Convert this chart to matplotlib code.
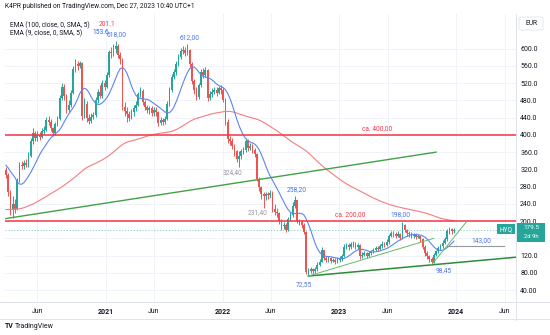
import numpy as np
import pandas as pd
import matplotlib
matplotlib.use("Agg")
import matplotlib.pyplot as plt
import matplotlib.dates as mdates
from matplotlib.patches import FancyBboxPatch, Rectangle

plt.rcParams['font.family'] = ['Roboto', 'DejaVu Sans']

# Weekly HYQ candles, first week starting 2020-02-24
first_week = "2020-02-24"
first_open = 318
closes = [
    308, 268, 225, 240, 228, 295, 330, 328, 335, 330,
    352, 385, 405, 392, 400, 395, 408, 412, 435, 430,
    415, 404, 425, 438, 485, 512, 490, 458, 470, 498,
    552, 565, 560, 566, 445, 472, 440, 432, 442, 446,
    480, 500, 490, 520, 512, 538, 592, 590, 600, 606,
    585, 575, 465, 455, 448, 440, 452, 462, 470, 495,
    502, 476, 465, 458, 462, 450, 458, 452, 428, 435,
    430, 438, 472, 505, 535, 545, 565, 580, 595, 598,
    590, 596, 565, 525, 505, 488, 515, 545, 540, 550,
    485, 495, 500, 505, 498, 508, 505, 482, 430, 390,
    385, 375, 362, 345, 350, 362, 365, 385, 370, 375,
    365, 355, 298, 278, 262, 258, 262, 260, 265, 228,
    222, 218, 200, 188, 192, 180, 205, 215, 235, 248,
    200, 198, 192, 175, 82, 85, 88, 84, 88, 98,
    106, 132, 115, 110, 114, 108, 110, 106, 110, 112,
    118, 140, 145, 140, 146, 148, 140, 145, 118, 122,
    125, 120, 126, 130, 134, 138, 136, 142, 148, 145,
    152, 165, 172, 170, 165, 170, 160, 192, 180, 172,
    170, 165, 168, 164, 166, 158, 140, 126, 118, 112,
    104, 122, 130, 138, 142, 150, 158, 178, 182, 176,
    179.5,
]
highs = [
    325, 312, 272, 258, 252, 300, 338, 340, 342, 345,
    360, 392, 415, 410, 408, 406, 415, 420, 442, 445,
    436, 418, 430, 445, 492, 520, 518, 495, 480, 505,
    560, 575, 572, 572, 570, 485, 478, 448, 450, 452,
    488, 506, 515, 528, 528, 545, 598, 604, 610, 618,
    610, 592, 578, 476, 465, 455, 460, 470, 478, 500,
    510, 506, 480, 470, 468, 466, 465, 464, 456, 442,
    440, 445, 478, 510, 542, 552, 572, 588, 602, 606,
    604, 612, 600, 570, 530, 512, 520, 552, 555, 558,
    554, 502, 508, 512, 510, 514, 515, 510, 486, 436,
    398, 392, 380, 366, 362, 368, 372, 392, 390, 382,
    380, 370, 358, 302, 282, 268, 268, 268, 272, 270,
    240, 230, 222, 205, 198, 196, 210, 222, 245, 258.2,
    250, 206, 202, 195, 178, 92, 94, 92, 94, 104,
    112, 140, 134, 120, 118, 116, 115, 114, 116, 118,
    124, 146, 150, 150, 152, 154, 152, 150, 148, 128,
    130, 128, 130, 134, 138, 142, 142, 146, 154, 152,
    158, 170, 178, 176, 174, 176, 172, 198, 194, 182,
    176, 174, 172, 172, 170, 168, 160, 144, 130, 122,
    116, 126, 134, 142, 147, 155, 162, 182, 186, 185,
    184,
]
lows = [
    300, 258, 214, 208, 218, 225, 290, 320, 322, 325,
    326, 348, 380, 385, 386, 388, 392, 402, 408, 422,
    410, 398, 400, 420, 435, 480, 480, 450, 452, 465,
    495, 545, 550, 555, 435, 440, 430, 425, 428, 436,
    442, 475, 485, 486, 505, 508, 535, 578, 582, 590,
    578, 565, 458, 445, 430, 432, 436, 445, 455, 466,
    488, 470, 458, 450, 448, 444, 445, 444, 420, 422,
    424, 426, 434, 468, 500, 530, 540, 560, 575, 588,
    584, 585, 558, 518, 496, 480, 484, 510, 532, 535,
    478, 480, 488, 494, 490, 494, 496, 476, 424, 382,
    376, 368, 352, 336, 324.4, 345, 355, 360, 362, 365,
    358, 348, 292, 270, 252, 231.4, 250, 252, 254, 222,
    215, 210, 194, 180, 182, 174, 178, 200, 210, 230,
    195, 190, 185, 170, 78, 72.55, 80, 78, 80, 85,
    95, 104, 110, 104, 106, 102, 104, 100, 102, 106,
    108, 116, 136, 134, 136, 140, 136, 136, 112, 114,
    118, 115, 116, 122, 126, 130, 130, 132, 138, 140,
    142, 148, 162, 164, 160, 162, 155, 158, 174, 166,
    164, 160, 160, 158, 160, 152, 135, 120, 112, 105,
    98.45, 102, 118, 126, 132, 138, 146, 154, 170, 170,
    172,
]
opens = [first_open] + closes[:-1]

dates = pd.date_range(first_week, periods=len(closes), freq="7D")
x = mdates.date2num(dates)

# price levels and drawings
resistance = 400.0
support = 200.0
level_143 = 143.0
trend_start = ("2020-02-24", 206.0)
trend_end = ("2023-10-30", 360.0)
i_low1, i_low2 = 135, 190          # 72,55 and 98,45 lows
i_high1, i_high2, i_high3, i_high4 = 49, 81, 129, 177
i_dip1, i_dip2 = 104, 115
channel_end = ("2023-10-23", 160.0)
rally_end = ("2024-02-04", 200.0)
ray_143 = ("2023-12-04", "2024-05-28")

ema100_seed = 225.0
ema9_seed = 335.0


def ema(values, span, seed):
    alpha = 2.0 / (span + 1)
    out, prev = [], seed
    for v in values:
        prev = prev + alpha * (v - prev)
        out.append(prev)
    return pd.Series(out).rolling(5, min_periods=1).mean().to_numpy()


ema100 = ema(closes, 100, ema100_seed)
ema9 = ema(closes, 9, ema9_seed)

UP = "#26a69a"
DOWN = "#ef5350"
RED = "#f23645"
BLUE = "#2962ff"
GREEN = "#43a047"
TXT = "#131722"
GRID = "#f0f3fa"
LABEL_BLUE = "#4a74e8"

W, H = 550, 335
fig = plt.figure(figsize=(W / 100, H / 100), dpi=100)
ax = fig.add_axes([5 / W, (H - 302) / H, (516 - 5) / W, (302 - 14) / H])

# candles
for xi, o, h, l, c in zip(x, opens, highs, lows, closes):
    col = UP if c >= o else DOWN
    ax.vlines(xi, l, h, color=col, linewidth=0.7, zorder=3)
    ax.add_patch(Rectangle((xi - 2.6, min(o, c)), 5.2, max(abs(c - o), 1.2),
                           facecolor=col, edgecolor='none', zorder=4))

ax.plot(x, ema100, color="#f77c80", linewidth=0.8, zorder=5)
ax.plot(x, ema9, color="#5b86f0", linewidth=0.8, zorder=5)

xmin = mdates.date2num(pd.Timestamp("2020-02-21"))
xmax = mdates.date2num(pd.Timestamp("2024-07-06"))
ax.set_xlim(xmin, xmax)
ax.set_ylim(12.3, 680.5)

# horizontal levels
ax.axhline(resistance, color=RED, linewidth=1.1, zorder=6)
ax.axhline(support, color=RED, linewidth=1.1, zorder=6)
ax.axhline(closes[-1], color=UP, linewidth=0.6, linestyle=(0, (1.5, 2)), alpha=0.6, zorder=2)
ax.text(mdates.date2num(pd.Timestamp("2023-04-30")), resistance + 6, "ca. 400,00",
        color=RED, fontsize=4.8, ha='center', va='bottom', zorder=7)
ax.text(mdates.date2num(pd.Timestamp("2023-02-05")), support + 6, "ca. 200,00",
        color=RED, fontsize=4.8, ha='center', va='bottom', zorder=7)

# trend lines
d = lambda s: mdates.date2num(pd.Timestamp(s))
ax.plot([d(trend_start[0]), d(trend_end[0])], [trend_start[1], trend_end[1]],
        color=GREEN, linewidth=1.0, zorder=6)
slope = (lows[i_low2] - lows[i_low1]) / (x[i_low2] - x[i_low1])
ax.plot([x[i_low1], xmax], [lows[i_low1], lows[i_low1] + slope * (xmax - x[i_low1])],
        color="#2e8b3a", linewidth=1.1, zorder=6)
ax.plot([x[i_low1], d(channel_end[0])], [lows[i_low1], channel_end[1]],
        color="#66bb6a", linewidth=0.7, zorder=6)
ax.plot([x[i_low2], d(rally_end[0])], [lows[i_low2], rally_end[1]],
        color="#66bb6a", linewidth=0.7, zorder=6)
ax.plot([d(ray_143[0]), d(ray_143[1])], [level_143, level_143],
        color="#9598a1", linewidth=0.8, zorder=6)


def tag(i_x, val, text, dx, dy, color):
    ax.annotate(text, xy=(i_x, val), xytext=(dx * 0.72, dy * 0.72),
                textcoords='offset points', ha='center', va='center',
                color=color, fontsize=4.8, zorder=8)


tag(x[i_high1], highs[i_high1], "618,00", 1, 6, LABEL_BLUE)
tag(x[i_high2], highs[i_high2], "612,00", 2, 6, LABEL_BLUE)
tag(x[i_high3], highs[i_high3], "258,20", 2, 6, LABEL_BLUE)
tag(x[i_high4], highs[i_high4], "198,00", -1.5, 7, LABEL_BLUE)
tag(x[i_low1], lows[i_low1], "72,55", -4, -9, LABEL_BLUE)
tag(x[i_low2], lows[i_low2], "98,45", 12, -6, LABEL_BLUE)
tag(x[i_dip1], lows[i_dip1], "324,40", -6, -5, "#9598a1")
tag(x[i_dip2], lows[i_dip2], "231,40", -6, -5, "#9598a1")
tag(d("2024-03-20"), level_143, "143,00", 0, 5, LABEL_BLUE)

# grid and axes; the 160 label sits under the last-price tag
yticks = np.arange(40, 601, 40)
ax.set_yticks(yticks)
ax.set_yticklabels(["" if v == 160 else (f"{v:.1f}" if v >= 100 else f"{v:.2f}")
                    for v in yticks])
ax.yaxis.tick_right()
ax.tick_params(axis='y', length=0, pad=3, labelsize=5, labelcolor=TXT)
ax.tick_params(axis='x', length=0, pad=4, labelsize=5, labelcolor=TXT)
xt = ["2020-06-01", "2021-01-01", "2021-06-01", "2022-01-01", "2022-06-01",
      "2023-01-01", "2023-06-01", "2024-01-01", "2024-06-01"]
xl = ["Jun", "2021", "Jun", "2022", "Jun", "2023", "Jun", "2024", "Jun"]
ax.set_xticks([d(s) for s in xt])
ax.set_xticklabels(xl)
for lab in ax.get_xticklabels():
    if lab.get_text() != "Jun":
        lab.set_fontweight('bold')
for lab in ax.get_yticklabels():
    lab.set_horizontalalignment('left')
ax.grid(True, color=GRID, linewidth=0.7, zorder=0)
for s in ax.spines.values():
    s.set_visible(False)

# frame lines of the panes
fig.add_artist(plt.Line2D([516 / W, 516 / W], [(H - 320) / H, (H - 14) / H],
                          transform=fig.transFigure, color="#e0e3eb", linewidth=0.7))
fig.add_artist(plt.Line2D([0, 1], [(H - 302) / H] * 2,
                          transform=fig.transFigure, color="#e0e3eb", linewidth=0.7))
fig.add_artist(plt.Line2D([0, 1], [(H - 319) / H] * 2,
                          transform=fig.transFigure, color="#e0e3eb", linewidth=0.7))

# header and legend
fig.text(5 / W, 1 - 7 / H, "K4PR published on TradingView.com, Dec 27, 2023 10:40 UTC+1",
         fontsize=4.8, color=TXT, va='center', ha='left')
fig.text(10 / W, 1 - 25 / H, "EMA (100, close, 0, SMA, 5)", fontsize=4.8,
         color=TXT, va='center', ha='left')
fig.text(10 / W, 1 - 33 / H, "EMA (9, close, 0, SMA, 5)", fontsize=4.8,
         color=TXT, va='center', ha='left')
fig.text(99 / W, 1 - 25 / H, f"{ema100[-1]:.1f}", fontsize=4.8, color=RED, va='center')
fig.text(92 / W, 1 - 33 / H, f"{ema9[-1]:.1f}", fontsize=4.8, color=BLUE, va='center')

# currency box
fig.patches.append(FancyBboxPatch((519 / W, 1 - 30 / H), 24 / W, 13 / H,
                                  boxstyle="round,pad=0,rounding_size=0.005",
                                  transform=fig.transFigure, facecolor='white',
                                  edgecolor="#e0e3eb", linewidth=0.6))
fig.text(531 / W, 1 - 23.5 / H, "EUR", fontsize=4.8, color=TXT, ha='center', va='center')

# last price tags
yp = ax.transData.transform((0, closes[-1]))[1] / fig.bbox.height
fig.patches.append(Rectangle((517 / W, yp - 12 / H), 28 / W, 19 / H,
                             transform=fig.transFigure, facecolor=UP, edgecolor='none'))
fig.text(531 / W, yp + 2 / H, f"{closes[-1]:.1f}", fontsize=4.6, color='white',
         ha='center', va='center')
fig.text(531 / W, yp - 6.5 / H, "2d 9h", fontsize=4.2, color='white',
         ha='center', va='center')
fig.patches.append(Rectangle((497 / W, yp - 4.5 / H), 18 / W, 10 / H,
                             transform=fig.transFigure, facecolor=UP, edgecolor='none'))
fig.text(506 / W, yp + 0.5 / H, "HYQ", fontsize=4.8, color='white', ha='center', va='center')

# footer
fig.text(5 / W, 1 - 326 / H, "TV", fontsize=5, fontweight='bold', color=TXT, va='center')
fig.text(15 / W, 1 - 326 / H, "TradingView", fontsize=5, color=TXT, va='center')

fig.savefig("out.png", dpi=100, facecolor='white')
